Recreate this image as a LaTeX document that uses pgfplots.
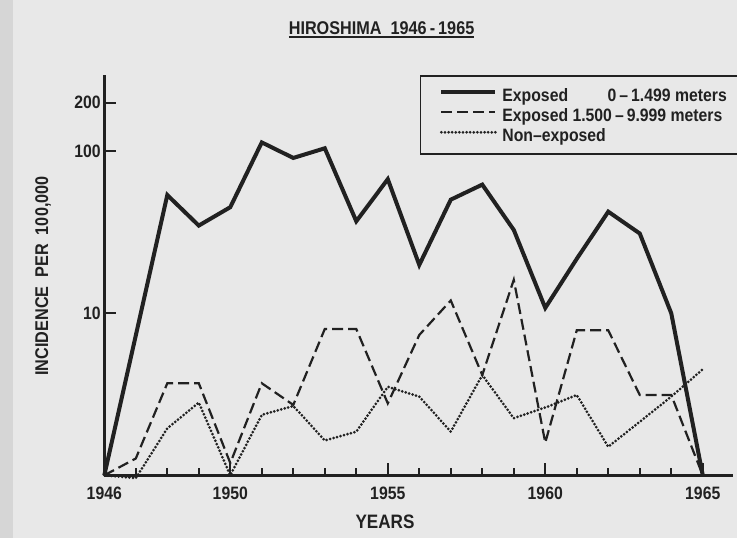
\documentclass[border=0pt]{standalone}
\usepackage{pgfplots}
\pgfplotsset{compat=1.18}
\usepackage{fontspec}
\setmainfont{Liberation Sans}[FakeStretch=0.88]
\definecolor{ink}{gray}{0.13}
\definecolor{paper}{gray}{0.91}
\newcommand\ulbox[1]{\setbox0\hbox{#1}\rlap{\rule[-4bp]{\wd0}{2bp}}\box0}
\begin{document}
\begin{tikzpicture}
\path[use as bounding box] (0,0) rectangle (737bp,538bp);
\fill[paper] (0,0) rectangle (737bp,538bp);
\fill[black!16] (0,0) rectangle (13bp,538bp);
\begin{axis}[
  at={(104.3bp,62.7bp)}, anchor=south west,
  scale only axis, width=628.7bp, height=399.8bp,
  xmin=1946, xmax=1965.96, ymode=log, ymin=1, ymax=293.8,
  axis x line*=bottom, axis y line*=left,
  axis line style={ink, line width=2.6bp, -},
  clip=false,
  tick align=inside,
  xtick={1946,1950,1955,1960,1965},
  xticklabels={1946,1950,1955,1960,1965},
  minor xtick={1947,1948,1949,1951,1952,1953,1954,1956,1957,1958,1959,1961,1962,1963,1964},
  ytick={10,100,200}, yticklabels={10,100,200},
  yminorticks=false,
  major tick length=12bp, minor tick length=7bp,
  every tick/.style={ink, line width=2bp},
  /pgf/number format/assume math mode=true,
  tick label style={font=\bfseries\fontsize{18}{18}\selectfont, text=ink, inner sep=0pt},
  xticklabel style={anchor=north, yshift=-11bp},
  yticklabel style={anchor=east, xshift=-3.5bp},
  xlabel={YEARS}, ylabel={INCIDENCE\ \ PER\ \ 100,000},
  label style={font=\bfseries\fontsize{18.5}{18.5}\selectfont, text=ink},
  xlabel style={at={(axis description cs:0.4465,-0.1158)}, anchor=center, font=\bfseries\fontsize{19.5}{19.5}\selectfont},
  ylabel style={at={(axis description cs:-0.0975,0.4985)}, anchor=center},
  title={\ulbox{HIROSHIMA\ \ 1946\,-\,1965}},
  title style={at={(axis description cs:0.441,1.0988)}, anchor=center, font=\bfseries\fontsize{18.5}{18.5}\selectfont, text=ink},
  legend cell align=left,
  legend style={at={(rel axis cs:0.5015,1)}, anchor=north west, draw=ink, line width=1.6bp, fill=none,
    inner xsep=19bp, inner ysep=9bp, row sep=0bp,
    font=\bfseries\fontsize{18}{18}\selectfont, text=ink,
    cells={anchor=base west},
    nodes={inner sep=0pt, text height=16bp, text depth=4bp},
    /tikz/every odd column/.append style={column sep=5bp}},
  legend image code/.code={\draw[#1] (0bp,9bp) -- (54bp,9bp);},
]
\addplot[ink, line width=4bp, line join=miter, miter limit=3] coordinates {
(1946,1) (1947,7.3) (1948,53.7) (1949,34.8) (1950,45.2) (1951,113.5) (1952,91) (1953,104.4)
(1954,37.0) (1955,67.3) (1956,19.9) (1957,50.3) (1958,62.3) (1959,32.7) (1960,10.8)
(1961,21.7) (1962,42.4) (1963,31.1) (1964,10.0) (1965,1)};
\addplot[ink, line width=2.2bp, dash pattern=on 11bp off 5bp] coordinates {
(1946,1) (1947,1.27) (1948,3.70) (1949,3.70) (1950,1.19) (1951,3.70) (1952,2.72) (1953,8.0)
(1954,8.0) (1955,2.78) (1956,7.35) (1957,12.0) (1958,4.16) (1959,16.1) (1960,1.59)
(1961,7.85) (1962,7.85) (1963,3.13) (1964,3.13) (1965,1)};
\addplot[ink, line width=3bp, line cap=round, dash pattern=on 0bp off 3.6bp] coordinates {
(1946,1) (1947,0.96) (1948,1.95) (1949,2.81) (1950,1.0) (1951,2.36) (1952,2.68) (1953,1.64)
(1954,1.86) (1955,3.52) (1956,3.06) (1957,1.86) (1958,4.16) (1959,2.25) (1960,2.62)
(1961,3.13) (1962,1.50) (1963,2.14) (1964,3.06) (1965,4.51)};
\legend{\makebox[260bp][l]{Exposed\ \ \phantom{1.50}0\,–\,1.499 meters},
        \makebox[260bp][l]{Exposed 1.500\,–\,9.999 meters},
        \makebox[260bp][l]{Non–exposed}}
\end{axis}
\end{tikzpicture}
\end{document}
